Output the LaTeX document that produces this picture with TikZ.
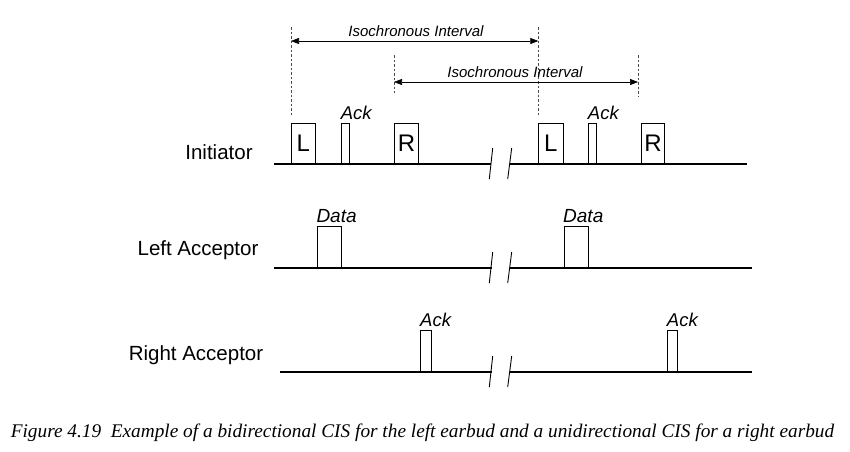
\documentclass[tikz,border=0pt]{standalone}
\usepackage{fontspec}
\setmainfont{Liberation Serif}
\setsansfont{Liberation Sans}
\usetikzlibrary{arrows.meta}

\begin{document}
\begin{tikzpicture}[x=1pt,y=-1pt,
  timeline/.style={draw=black,line width=1.6pt},
  brk/.style={draw=black,line width=0.9pt},
  pkt/.style={draw=black,line width=0.9pt,fill=white,inner sep=0pt,anchor=south west,minimum height=40pt,font=\sffamily\fontsize{24}{26}\selectfont},
  tag/.style={anchor=base west,inner sep=0pt,font=\sffamily\itshape\fontsize{18.5}{20}\selectfont},
  lane/.style={inner sep=0pt,font=\sffamily\fontsize{20.5}{23}\selectfont},
  guide/.style={draw=black!70,line width=0.5pt,dash pattern=on 2.5pt off 2pt},
  interval/.style={draw=black,line width=0.6pt,{Triangle[length=8pt,width=6pt]}-{Triangle[length=8pt,width=6pt]}},
  ivtext/.style={inner sep=0pt,font=\sffamily\itshape\fontsize{15}{17}\selectfont}]
  \useasboundingbox (0,0) rectangle (850,451);
  % lane names
  \node[lane] (nIni) at (219,152) {Initiator};
  \node[lane] (nLeft) at (198,250) {Left Acceptor};
  \node[lane] (nRight) at (196,355) {Right Acceptor};
  % time lines with break
  \coordinate (i0) at (274,164); \coordinate (i1) at (491,164); \coordinate (i2) at (510,164); \coordinate (i3) at (747,164);
  \coordinate (l0) at (274,268); \coordinate (l1) at (492,268); \coordinate (l2) at (510,268); \coordinate (l3) at (752,268);
  \coordinate (r0) at (280,372); \coordinate (r1) at (492,372); \coordinate (r2) at (510,372); \coordinate (r3) at (752,372);
  \draw[timeline] (i0) -- (i1); \draw[timeline] (i2) -- (i3);
  \draw[timeline] (l0) -- (l1); \draw[timeline] (l2) -- (l3);
  \draw[timeline] (r0) -- (r1); \draw[timeline] (r2) -- (r3);
  \foreach \y in {164,268,372} {
    \draw[brk] (489.3,\y+15) -- (492.7,\y-16);
    \draw[brk] (507.7,\y+15) -- (511.7,\y-16);
  }
  % initiator packets
  \node[pkt,minimum width=24.3pt] (iniL1) at (290.7,164) {L};
  \node[pkt,minimum width=8.3pt] (iniA1) at (340.7,164) {};
  \node[pkt,minimum width=24.3pt] (iniR1) at (394,164) {R};
  \node[pkt,minimum width=24.3pt] (iniL2) at (538.3,164) {L};
  \node[pkt,minimum width=8pt] (iniA2) at (587.7,164) {};
  \node[pkt,minimum width=23.6pt] (iniR2) at (640.7,164) {R};
  \node[tag] (tAck1) at ([yshift=4pt]iniA1.north west) {Ack};
  \node[tag] (tAck2) at ([yshift=4pt]iniA2.north west) {Ack};
  % left acceptor packets
  \node[pkt,minimum width=23.4pt,minimum height=40.7pt] (lftD1) at (317.3,268) {};
  \node[pkt,minimum width=24.3pt,minimum height=40.7pt] (lftD2) at (564,268) {};
  \node[tag,font=\sffamily\itshape\fontsize{19}{21}\selectfont] (tData1) at ([xshift=-1pt,yshift=4pt]lftD1.north west) {Data};
  \node[tag,font=\sffamily\itshape\fontsize{19}{21}\selectfont] (tData2) at ([xshift=-1pt,yshift=4pt]lftD2.north west) {Data};
  % right acceptor packets
  \node[pkt,minimum width=10.7pt,minimum height=41pt] (rgtA1) at (420,372) {};
  \node[pkt,minimum width=10.6pt,minimum height=41pt] (rgtA2) at (666.7,372) {};
  \node[tag] (tAck3) at ([yshift=4pt]rgtA1.north west) {Ack};
  \node[tag] (tAck4) at ([yshift=4pt]rgtA2.north west) {Ack};
  % isochronous intervals
  \coordinate (g1a) at (291,27); \coordinate (g1b) at (291,115);
  \coordinate (g2a) at (538.3,27); \coordinate (g2b) at (538.3,115);
  \coordinate (g3a) at (394,55); \coordinate (g3b) at (394,93);
  \coordinate (g4a) at (638,55); \coordinate (g4b) at (638,97);
  \draw[guide] (g1a) -- (g1b);
  \draw[guide] (g2a) -- (g2b);
  \draw[guide] (g3a) -- (g3b);
  \draw[guide] (g4a) -- (g4b);
  \coordinate (iv1a) at (291,41); \coordinate (iv1b) at (538.3,41);
  \coordinate (iv2a) at (394,82); \coordinate (iv2b) at (638,82);
  \draw[interval] (iv1a) -- (iv1b);
  \draw[interval] (iv2a) -- (iv2b);
  \node[ivtext] (tIv1) at (416,31) {Isochronous Interval};
  \node[ivtext] (tIv2) at (515,72) {Isochronous Interval};
  % caption
  \node[inner sep=0pt,font=\rmfamily\itshape\fontsize{19.3}{22}\selectfont] (cap) at (422.5,433) {Figure 4.19~~Example of a bidirectional CIS for the left earbud and a unidirectional CIS for a right earbud};
\end{tikzpicture}
\end{document}
